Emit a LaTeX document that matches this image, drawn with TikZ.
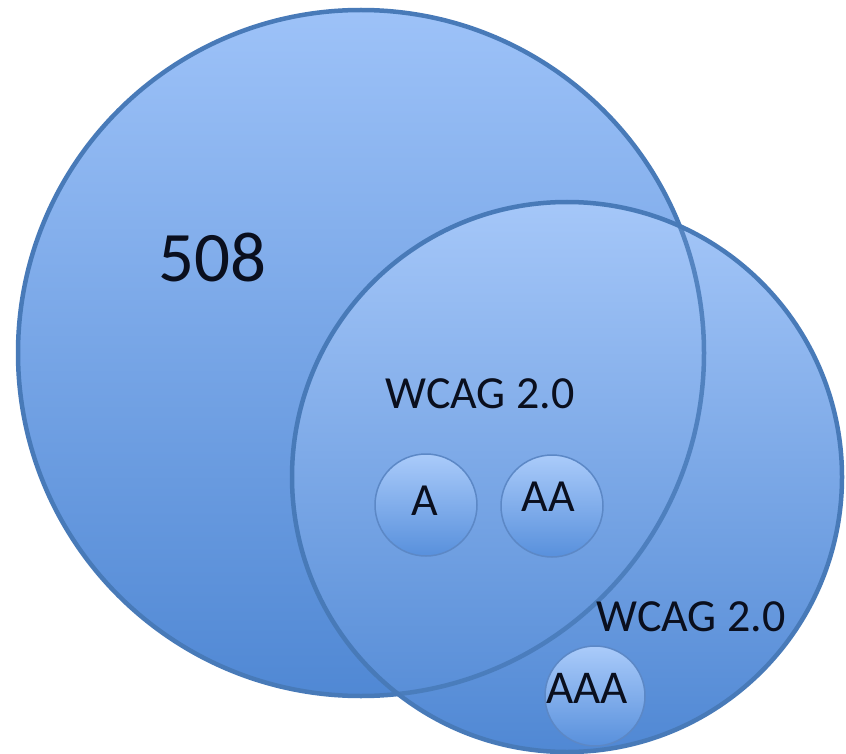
\documentclass[tikz,border=0pt]{standalone}
\usepackage{fontspec}
\setmainfont{Carlito}
\definecolor{edgeblue}{RGB}{72,122,184}
\definecolor{topblue}{RGB}{157,194,248}
\definecolor{botblue}{RGB}{80,136,212}
\definecolor{smalltop}{RGB}{170,203,250}
\definecolor{smallbot}{RGB}{88,144,220}
\definecolor{smalledge}{RGB}{92,136,198}
\definecolor{txt}{RGB}{10,15,30}
\tikzset{
  bigcirc/.style={circle, draw=edgeblue, line width=4.5pt, top color=topblue, bottom color=botblue, inner sep=0pt},
  smallcirc/.style={circle, draw=smalledge, line width=1.5pt, top color=smalltop, bottom color=smallbot, inner sep=0pt, minimum size=102pt},
  lbl/.style={inner sep=0pt, text=txt}
}
\begin{document}
\begin{tikzpicture}[x=1pt,y=-1pt]
\useasboundingbox (0,0) rectangle (846,754);
\node[bigcirc, minimum size=686pt] (s508) at (361,353) {};
\node[bigcirc, minimum size=550pt, top color=topblue!92!white, bottom color=botblue] (wcag) at (567,477) {};
\begin{scope}
  \clip (567,477) circle (275pt);
  \draw[edgeblue, line width=4.5pt, opacity=0.85] (s508.center) circle (343pt);
\end{scope}
\node[lbl, font=\fontsize{71}{71}\selectfont] (t508) at (212,258) {508};
\node[lbl, font=\fontsize{46}{46}\selectfont] (tw1) at (480,394) {WCAG 2.0};
\node[lbl, font=\fontsize{46}{46}\selectfont] (tw2) at (691,617) {WCAG 2.0};
\node[smallcirc] (ca) at (426,505) {};
\node[smallcirc] (caa) at (552,506) {};
\node[smallcirc, minimum size=100pt] (caaa) at (595,696) {};
\node[lbl, font=\fontsize{46}{46}\selectfont] (ta) at (425,501) {A};
\node[lbl, font=\fontsize{46}{46}\selectfont] (taa) at (548,497) {AA};
\node[lbl, font=\fontsize{47}{47}\selectfont] (taaa) at (587,688) {AAA};
\end{tikzpicture}
\end{document}
